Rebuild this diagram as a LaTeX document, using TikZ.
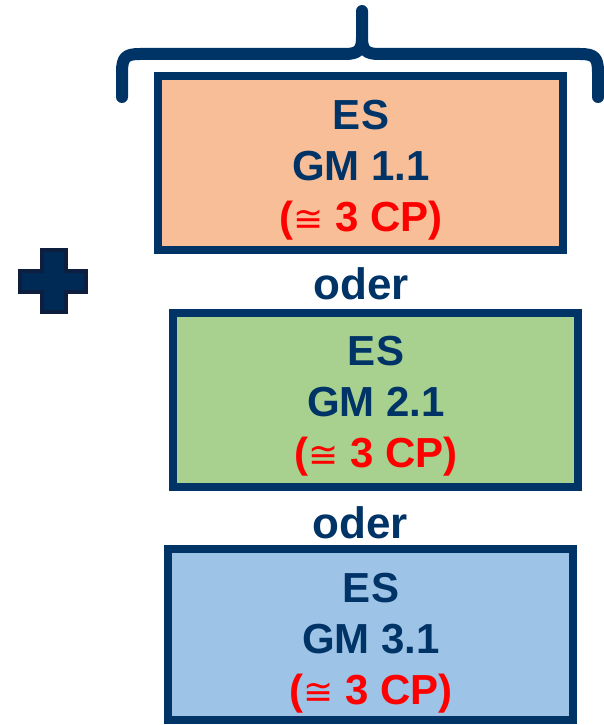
\documentclass[tikz,border=0pt]{standalone}
\usepackage{fontspec}
\setmainfont{Liberation Sans}
\newfontfamily\symfont{DejaVu Sans}
\definecolor{navy}{RGB}{0,51,102}
\definecolor{plusnavy}{RGB}{0,42,86}
\definecolor{plusedge}{RGB}{14,30,62}
\definecolor{fillorange}{RGB}{247,190,152}
\definecolor{fillgreen}{RGB}{168,208,142}
\definecolor{fillblue}{RGB}{157,195,230}
\definecolor{cpred}{RGB}{255,0,0}
\newcommand{\cptext}{\textcolor{cpred}{({\symfont\mdseries\fontsize{36}{36}\selectfont ≅} 3 CP)}}
\tikzset{
  gmbox/.style={draw=navy, line width=8pt, minimum width=405pt, inner sep=0pt},
  gmtext/.style={inner sep=0pt, align=center, text=navy,
    font=\fontsize{42}{51}\selectfont\bfseries},
  odertext/.style={inner sep=0pt, text=navy, font=\fontsize{44}{44}\selectfont\bfseries},
  bracestyle/.style={draw=navy, line width=12pt, line cap=round, line join=round}
}
\begin{document}
\begin{tikzpicture}[x=1pt,y=-1pt]
\useasboundingbox (0,0) rectangle (604,725);
% brace
\draw[bracestyle] (122,97) -- (122,72) .. controls (122,57) and (126,54) .. (140,54)
  -- (345,54) .. controls (358,54) and (362,50) .. (362,38) -- (362,11);
\draw[bracestyle] (598,97) -- (598,72) .. controls (598,57) and (594,54) .. (580,54)
  -- (379,54) .. controls (366,54) and (362,50) .. (362,38);
% plus
\draw[fill=plusnavy, draw=plusedge, line width=4pt, line join=miter]
  (42,250) -- (66,250) -- (66,271) -- (86,271) -- (86,292) -- (66,292) -- (66,312)
  -- (42,312) -- (42,292) -- (20,292) -- (20,271) -- (42,271) -- cycle;
% boxes
\node[gmbox, fill=fillorange, minimum height=174pt] (b1) at (360.5,163) {};
\node[gmtext] (t1) at (361,170) {ES\\GM 1.1\\\cptext};
\node[odertext] (o1) at (361,284) {oder};
\node[gmbox, fill=fillgreen, minimum height=174pt] (b2) at (375.5,400) {};
\node[gmtext] (t2) at (376,406) {ES\\GM 2.1\\\cptext};
\node[odertext] (o2) at (360,523) {oder};
\node[gmbox, fill=fillblue, minimum height=171pt] (b3) at (370.5,634.5) {};
\node[gmtext] (t3) at (371,643) {ES\\GM 3.1\\\cptext};
\end{tikzpicture}
\end{document}
